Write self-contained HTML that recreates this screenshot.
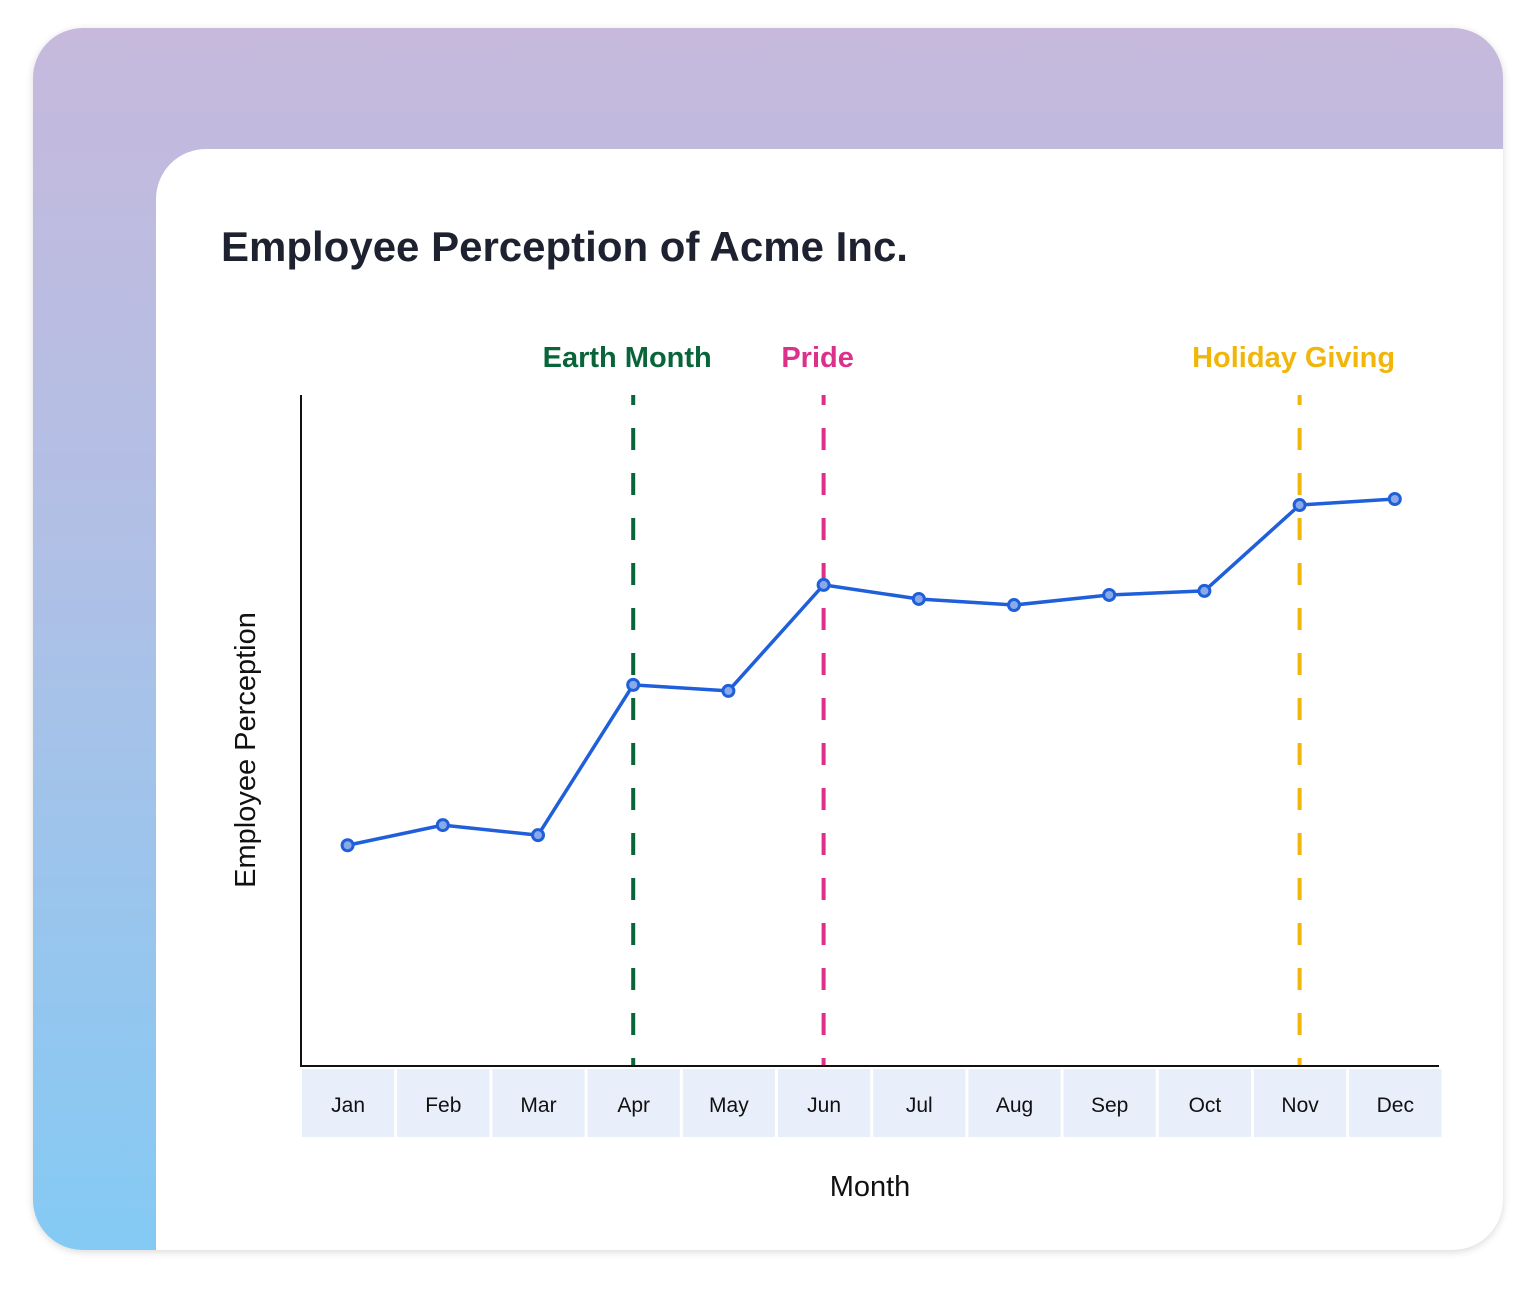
<!DOCTYPE html>
<html><head><meta charset="utf-8"><style>
html,body{margin:0;padding:0;background:#fff;}
body{width:1536px;height:1289px;position:relative;overflow:hidden;font-family:"Liberation Sans",sans-serif;}
.outer{position:absolute;left:33px;top:28px;width:1470px;height:1222px;border-radius:50px;background:linear-gradient(180deg,#c6b9dc 0%,#b2bfe5 40%,#84caf4 100%);box-shadow:0 2px 8px rgba(0,0,0,0.15);overflow:hidden;}
.inner{position:absolute;left:123px;top:121px;width:1347px;height:1101px;background:#fff;border-top-left-radius:50px;}
</style></head><body>
<div class="outer"><div class="inner"></div></div>
<svg id="chart" width="1536" height="1289" style="position:absolute;left:0;top:0">
<text x="221" y="261" font-size="42" font-weight="bold" fill="#1e2230" font-family="Liberation Sans, sans-serif">Employee Perception of Acme Inc.</text>
<text x="870" y="1196" font-size="29" fill="#111" text-anchor="middle" font-family="Liberation Sans, sans-serif">Month</text>
<text transform="translate(255,750) rotate(-90)" font-size="29" fill="#111" text-anchor="middle" font-family="Liberation Sans, sans-serif">Employee Perception</text>
<g id="cells"></g><g id="events"></g>
<line x1="301" y1="395" x2="301" y2="1067" stroke="#111" stroke-width="2"/>
<line x1="300" y1="1066" x2="1439" y2="1066" stroke="#111" stroke-width="2"/>
<g id="series"></g>
</svg>
<script>
const months=["Jan","Feb","Mar","Apr","May","Jun","Jul","Aug","Sep","Oct","Nov","Dec"];
const values=[32.9,35.9,34.4,56.8,55.9,71.7,69.6,68.7,70.2,70.8,83.6,84.5];
const eventMonths=["Apr","Jun","Nov"];
const eventLabels=["Earth Month","Pride","Holiday Giving"];
const eventColors=["#08653a","#dd308a","#f0b60a"];
const NS="http://www.w3.org/2000/svg";
const x0=302,step=95.2,yTop=395,yBot=1066;
function xc(i){return x0+step*i+step/2-8;}
function xs(i){return x0+step*i+step/2;}
function ys(v){return yBot-(v/100)*(yBot-yTop);}
function mk(t,a,p){const e=document.createElementNS(NS,t);for(const k in a)e.setAttribute(k,a[k]);p.appendChild(e);return e;}
const cells=document.getElementById('cells');
months.forEach((m,i)=>{
 const r=mk('rect',{x:x0+step*i,y:1069,width:step-3,height:68,fill:'#e8eefa'},cells);
 
 
 const t=mk('text',{x:x0+step*i+(step-3)/2,y:1112,'font-size':21,fill:'#111','text-anchor':'middle','font-family':'Liberation Sans, sans-serif'},cells);
 t.textContent=m;
 
 
});
const ev=document.getElementById('events');
eventMonths.forEach((m,j)=>{
 const i=months.indexOf(m);const x=xs(i)-2;
 const l=mk('line',{x1:x,y1:yTop,x2:x,y2:yBot,stroke:eventColors[j],'stroke-width':4,'stroke-dasharray':'22 23','stroke-dashoffset':12},ev);
 
 
 const t=mk('text',{x:x-6,y:367,'font-size':29,'font-weight':'bold',fill:eventColors[j],'text-anchor':'middle','font-family':'Liberation Sans, sans-serif'},ev);
 t.textContent=eventLabels[j];
 
 
});
const s=document.getElementById('series');
const pts=values.map((v,i)=>(xs(i)-2)+','+ys(v)).join(' ');
const pl=mk('polyline',{points:pts,fill:'none',stroke:'#1f5fd9','stroke-width':3.5,'stroke-linejoin':'round'},s);


values.forEach((v,i)=>{
 const c=mk('circle',{cx:xs(i)-2,cy:ys(v),r:5.5,fill:'#8aa9ea',stroke:'#1f5fd9','stroke-width':3},s);
 
 
});
</script>
</body></html>
